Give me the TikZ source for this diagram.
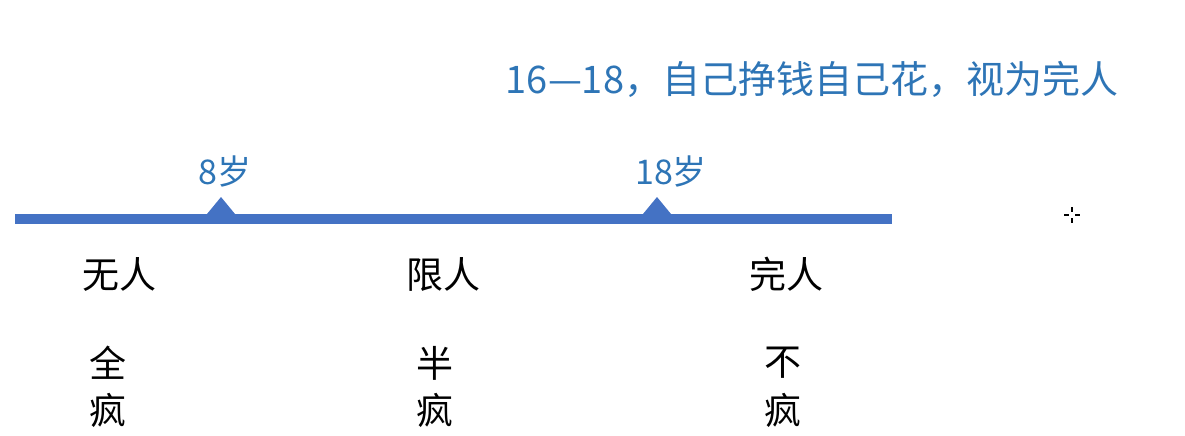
\documentclass[tikz,border=0pt]{standalone}
\usepackage{fontspec}
\setmainfont{Noto Sans CJK SC}
\usetikzlibrary{positioning}
\definecolor{lineblue}{RGB}{68,114,196}
\definecolor{textblue}{RGB}{46,117,182}
\tikzset{
  stage/.style={inner sep=0pt, font=\fontsize{37}{37}\selectfont},
  age/.style={inner sep=0pt, text=textblue, font=\fontsize{34}{34}\selectfont},
  agemark/.style={fill=lineblue}
}
\begin{document}
\begin{tikzpicture}[x=1pt, y=-1pt, node distance=47pt]
    \useasboundingbox (0,0) rectangle (1185,436);

    % Oś czasu
    \coordinate (start) at (15,219);
    \coordinate (end) at (892,219);
    \draw[line width=10pt, lineblue] (start) -- (end);

    % Znaczniki wieku
    \coordinate (m8) at (221,214);
    \coordinate (m18) at (657,214);
    \fill[agemark] (m8) ++(-14,0) -- ++(14,-17) -- ++(14,17) -- cycle;
    \fill[agemark] (m18) ++(-14,0) -- ++(14,-17) -- ++(14,17) -- cycle;
    \node[age] (a8) at (225,172) {8岁};
    \node[age] (a18) at (671,172) {18岁};

    % Opis u góry
    \node[age, font=\fontsize{38}{38}\selectfont] (note) at (812,79) {16—18，自己挣钱自己花，视为完人};

    % Etapy
    \node[stage] (s1) at (119,274) {无人};
    \node[stage] (s2) at (443,274) {限人};
    \node[stage] (s3) at (786,274) {完人};

    \node[stage] (q1) at (108,363) {全};
    \node[stage] (r1) [below of=q1] {疯};
    \node[stage] (q2) at (435,363) {半};
    \node[stage] (r2) [below of=q2] {疯};
    \node[stage] (q3) at (783,363) {不};
    \node[stage] (r3) [below of=q3] {疯};

    % Kursor
    \coordinate (cur) at (1072,215);
    \draw[line width=1.5pt] (cur) ++(-8,0) -- ++(5,0) ++(6,0) -- ++(5,0);
    \draw[line width=1.5pt] (cur) ++(0,-8) -- ++(0,5) ++(0,6) -- ++(0,5);
\end{tikzpicture}
\end{document}
